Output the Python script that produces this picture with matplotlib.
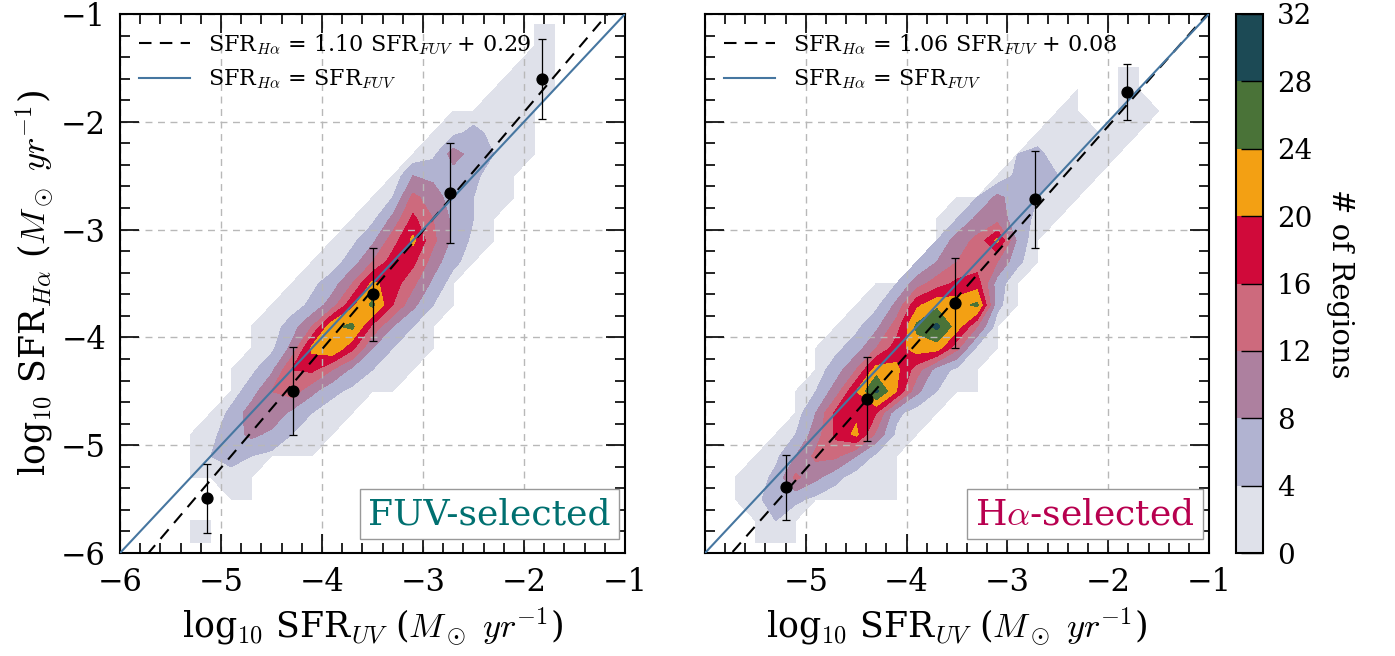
import numpy as np
import matplotlib
matplotlib.use('Agg')
import matplotlib.pyplot as plt
from matplotlib.ticker import AutoMinorLocator

plt.rcParams['font.family'] = 'DejaVu Serif'
plt.rcParams['mathtext.fontset'] = 'cm'

# number of regions per 0.2 dex bin
# columns: log SFR_UV from -6 (left) to -1 (right)
# rows:    log SFR_Ha from -1 (top) to -6 (bottom)
# one base-36 character per bin, '.' = no regions
fuv_counts = [
    "....................11...",
    "....................22...",
    "...................132...",
    "..................1231...",
    "................12322....",
    "...............135321....",
    "..............13a6421....",
    ".............1876521.....",
    "............14da6421.....",
    "...........139hc741......",
    "..........137eld731......",
    ".........126ciha52.......",
    "........136clid72........",
    ".......125ajpg941........",
    "......126cnpf841.........",
    "......139loh8421.........",
    ".....137ghc7421..........",
    ".....26ce95321...........",
    "....15ab7421.............",
    "...13697421..............",
    "...2454321...............",
    "...1231..................",
    ".....11..................",
    "...11....................",
    "...11....................",
]

ha_counts = [
    ".........................",
    ".........................",
    "....................11...",
    "..................1.12...",
    ".................11.221..",
    "................221111...",
    "...............452211....",
    "..............156421.....",
    "............1496421......",
    "...........149a631.......",
    "...........4adl71........",
    "..........48cec51........",
    "........14aehi61.........",
    ".......139jnmp51.........",
    "......137eptmc2..........",
    ".....136cimmd31..........",
    ".....26cmle631...........",
    "....14aktk9421...........",
    "....28hjg521.............",
    "...14ahlb31..............",
    "..138dd831...............",
    ".125d95211...............",
    ".136532111...............",
    "..241....................",
    "..111....................",
]

levels = [0, 4, 8, 12, 16, 20, 24, 28, 32]
level_colors = ['#dfe1ea', '#b1b3d1', '#ad809f', '#cd6a7d', '#d00a3a',
                '#f3a013', '#4a7338', '#1c4a55']

# binned medians with 1-sigma scatter
fuv_med_x = [-5.14, -4.29, -3.50, -2.73, -1.82]
fuv_med_y = [-5.49, -4.50, -3.60, -2.66, -1.60]
fuv_med_err = [0.32, 0.41, 0.43, 0.46, 0.37]
ha_med_x = [-5.20, -4.39, -3.52, -2.73, -1.81]
ha_med_y = [-5.39, -4.57, -3.68, -2.72, -1.72]
ha_med_err = [0.30, 0.39, 0.42, 0.45, 0.26]

fuv_fit = (1.10, 0.29)
ha_fit = (1.06, 0.08)

ticks = [-6, -5, -4, -3, -2, -1]


def parse(rows):
    return np.array([[0 if c == '.' else int(c, 36) for c in r] for r in rows], float)


edges = np.linspace(-6, -1, len(fuv_counts[0]) + 1)
centers = 0.5 * (edges[:-1] + edges[1:])

fig = plt.figure(figsize=(13.95, 6.56), dpi=100)
ax1 = fig.add_axes([120 / 1395, 103 / 656, 505 / 1395, 539 / 656])
ax2 = fig.add_axes([705 / 1395, 103 / 656, 504 / 1395, 539 / 656])
cax = fig.add_axes([1236 / 1395, 103 / 656, 27 / 1395, 539 / 656])

panels = [
    (ax1, fuv_counts, fuv_fit, fuv_med_x, fuv_med_y, fuv_med_err, 'FUV-selected', '#007070'),
    (ax2, ha_counts, ha_fit, ha_med_x, ha_med_y, ha_med_err, r'H$\alpha$-selected', '#b8004f'),
]

for ax, counts, fit, mx, my, merr, name, tcol in panels:
    z = parse(counts)[::-1]
    cs = ax.contourf(centers, centers, np.ma.masked_equal(z, 0),
                     levels=levels, colors=level_colors, zorder=1)

    xx = np.array([-6.0, -1.0])
    ax.plot(xx, fit[0] * xx + fit[1], color='black', lw=1.5, dashes=(6, 4),
            label=r'SFR$_{H\alpha}$ = %.2f SFR$_{FUV}$ + %.2f' % fit, zorder=3)
    ax.plot(xx, xx, color='#4676a0', lw=1.5,
            label=r'SFR$_{H\alpha}$ = SFR$_{FUV}$', zorder=3)
    ax.errorbar(mx, my, yerr=merr, fmt='o', color='black', ms=7.8,
                elinewidth=0.9, capsize=3, capthick=0.9, zorder=5)

    ax.set_xlim(-6, -1)
    ax.set_ylim(-6, -1)
    ax.set_xticks(ticks)
    ax.set_yticks(ticks)
    ax.xaxis.set_minor_locator(AutoMinorLocator(5))
    ax.yaxis.set_minor_locator(AutoMinorLocator(5))
    ax.tick_params(which='both', direction='in', top=True, right=True,
                   labelsize=22, width=1.2)
    ax.tick_params(which='major', length=14, pad=10)
    ax.tick_params(which='minor', length=7)
    for s in ax.spines.values():
        s.set_linewidth(1.5)
    ax.grid(True, which='major', color='#b8b8b8', ls=(0, (5, 4)), lw=1.0)
    ax.set_xlabel(r'log$_{10}$ SFR$_{UV}$ ($M_\odot\ yr^{-1}$)', fontsize=25, labelpad=6)

    ax.legend(loc='upper left', frameon=False, fontsize=16, handlelength=2.3,
              handletextpad=0.8, labelspacing=0.5, borderaxespad=0.45)
    ax.text(0.972, 0.04, name, transform=ax.transAxes, ha='right', va='bottom',
            fontsize=26, color=tcol, zorder=6,
            bbox=dict(boxstyle='square,pad=0.22', fc='white', ec='#999999', lw=1.0))

ax1.set_ylabel(r'log$_{10}$ SFR$_{H\alpha}$ ($M_\odot\ yr^{-1}$)', fontsize=25, labelpad=4)
ax2.set_xticklabels([''] + ['\u2212%d' % -t for t in ticks[1:]])
ax2.set_yticklabels([])

cb = fig.colorbar(cs, cax=cax, ticks=levels)
cb.ax.tick_params(direction='in', length=16, width=1, labelsize=20, pad=10)
cb.outline.set_linewidth(1.5)
cb.set_label('# of Regions', rotation=270, fontsize=21, labelpad=30)

fig.savefig('out.png', dpi=100)
